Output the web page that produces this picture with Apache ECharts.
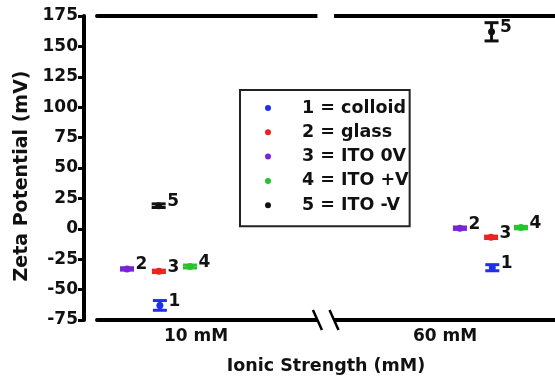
<!DOCTYPE html>
<html><head><meta charset="utf-8">
<script src="https://cdn.jsdelivr.net/npm/echarts@6/dist/echarts.min.js"></script>
<style>html,body{margin:0;padding:0;background:#fff}#c{width:555px;height:378px}</style>
</head><body><div id="c"></div>
<script>
// ---- data ----
const categories = ['10 mM', '60 mM'];
const categoryPositions = [1, 2];
const seriesNames = ['1 = colloid', '2 = glass', '3 = ITO 0V', '4 = ITO +V', '5 = ITO -V'];
const pointLabels = ['1', '3', '2', '4', '5'];
const seriesColors = ['#1f2ff0', '#ee2222', '#7a24d8', '#26c42c', '#111111'];

const colloidX = [0.855, 2.19];
const colloidY = [-63, -32];
const colloidErr = [4, 2.5];

const glassX = [0.851, 2.185];
const glassY = [-35, -7];
const glassErr = [1, 1];

const ito0X = [0.723, 2.06];
const ito0Y = [-33, 0.5];
const ito0Err = [1, 1];

const itoPlusX = [0.976, 2.305];
const itoPlusY = [-31, 1];
const itoPlusErr = [1.2, 1];

const itoMinusX = [0.85, 2.187];
const itoMinusY = [19, 162];
const itoMinusErr = [1.5, 7.5];

const yMin = -75, yMax = 175, yInterval = 25;
const xMin = 0.6024, xMax = 2.4418;
const breakX = 1.521;

const groups = [
  [colloidX, colloidY, colloidErr],
  [glassX, glassY, glassErr],
  [ito0X, ito0Y, ito0Err],
  [itoPlusX, itoPlusY, itoPlusErr],
  [itoMinusX, itoMinusY, itoMinusErr]
];

const FONT = 'DejaVu Sans';
const chart = echarts.init(document.getElementById('c'), null, {renderer: 'canvas'});

const series = [];
groups.forEach((g, i) => {
  const pts = g[0].map((x, k) => [x, g[1][k], g[2][k]]);
  series.push({
    type: 'custom',
    name: 'err' + i,
    z: 2,
    silent: true,
    renderItem: function (params, api) {
      const x = api.value(0), y = api.value(1), e = api.value(2);
      const top = api.coord([x, y + e]);
      const bot = api.coord([x, y - e]);
      const hw = 7;
      const st = {stroke: seriesColors[i], lineWidth: 3};
      return {type: 'group', children: [
        {type: 'line', shape: {x1: top[0], y1: top[1], x2: bot[0], y2: bot[1]}, style: st},
        {type: 'line', shape: {x1: top[0] - hw, y1: top[1], x2: top[0] + hw, y2: top[1]}, style: st},
        {type: 'line', shape: {x1: bot[0] - hw, y1: bot[1], x2: bot[0] + hw, y2: bot[1]}, style: st}
      ]};
    },
    data: pts
  });
  series.push({
    type: 'scatter',
    name: seriesNames[i],
    z: 3,
    symbol: 'circle',
    symbolSize: 7,
    itemStyle: {color: seriesColors[i], opacity: 1},
    label: {
      show: true, position: 'right', distance: 5, offset: [0, -4],
      formatter: pointLabels[i],
      fontFamily: FONT, fontWeight: 'bold', fontSize: 17, color: '#111', opacity: 1
    },
    data: pts.map(p => [p[0], p[1]])
  });
});

const baseX = {
  type: 'value', min: xMin, max: xMax,
  splitLine: {show: false},
  axisTick: {show: false},
  axisLine: {onZero: false, lineStyle: {color: '#000', width: 4}}
};

chart.setOption({
  animation: false,
  backgroundColor: '#fff',
  grid: {left: 97, right: 0, top: 16, bottom: 58, containLabel: false, outerBoundsMode: 'none'},
  legend: {
    orient: 'vertical', left: 240, top: 90,
    data: seriesNames.map(n => ({name: n, icon: 'circle', itemStyle: {opacity: 1}})),
    itemWidth: 52, itemHeight: 6, itemGap: 6.3,
    padding: [9, 1, 12, 25],
    borderColor: '#222', borderWidth: 2,
    textStyle: {fontFamily: FONT, fontWeight: 'bold', fontSize: 17.5, color: '#111', padding: [0, 0, 0, 3]}
  },
  xAxis: [
    Object.assign({}, baseX, {
      position: 'bottom',
      name: 'Ionic Strength (mM)', nameLocation: 'middle', nameGap: 37,
      nameTextStyle: {fontFamily: FONT, fontWeight: 'bold', fontSize: 17.5, color: '#111'},
      axisLabel: {
        customValues: categoryPositions, margin: 8,
        formatter: v => categories[categoryPositions.indexOf(Math.round(v))] || '',
        fontFamily: FONT, fontWeight: 'bold', fontSize: 17, color: '#111'
      }
    }),
    Object.assign({}, baseX, {position: 'top', axisLabel: {show: false}})
  ],
  yAxis: {
    type: 'value', min: yMin, max: yMax, interval: yInterval,
    offset: 13,
    splitLine: {show: false},
    axisLine: {show: true, onZero: false, lineStyle: {color: '#000', width: 4}},
    axisTick: {show: true, length: 6, lineStyle: {color: '#000', width: 3}},
    axisLabel: {fontFamily: FONT, fontWeight: 'bold', fontSize: 17, color: '#111', margin: 6},
    name: 'Zeta Potential (mV)', nameLocation: 'middle', nameGap: 52,
    nameTextStyle: {fontFamily: FONT, fontWeight: 'bold', fontSize: 19, color: '#111', padding: [0, 16, 0, 0]}
  },
  series: series
});

// axis break marks
const bx = chart.convertToPixel({xAxisIndex: 0}, breakX);
const yT = chart.convertToPixel({yAxisIndex: 0}, yMax);
const yB = chart.convertToPixel({yAxisIndex: 0}, yMin);
const half = 8.3;
chart.setOption({
  graphic: [
    {type: 'rect', z: 100, shape: {x: bx - half, y: yT - 4, width: half * 2, height: 8}, style: {fill: '#fff'}},
    {type: 'rect', z: 100, shape: {x: bx - half, y: yB - 4, width: half * 2, height: 8}, style: {fill: '#fff'}},
    {type: 'line', z: 101, shape: {x1: bx - half - 4.5, y1: yB - 10, x2: bx - half + 4.5, y2: yB + 10}, style: {stroke: '#000', lineWidth: 2.5}},
    {type: 'line', z: 101, shape: {x1: bx + half - 4.5, y1: yB - 10, x2: bx + half + 4.5, y2: yB + 10}, style: {stroke: '#000', lineWidth: 2.5}}
  ]
});
</script>
</body></html>
